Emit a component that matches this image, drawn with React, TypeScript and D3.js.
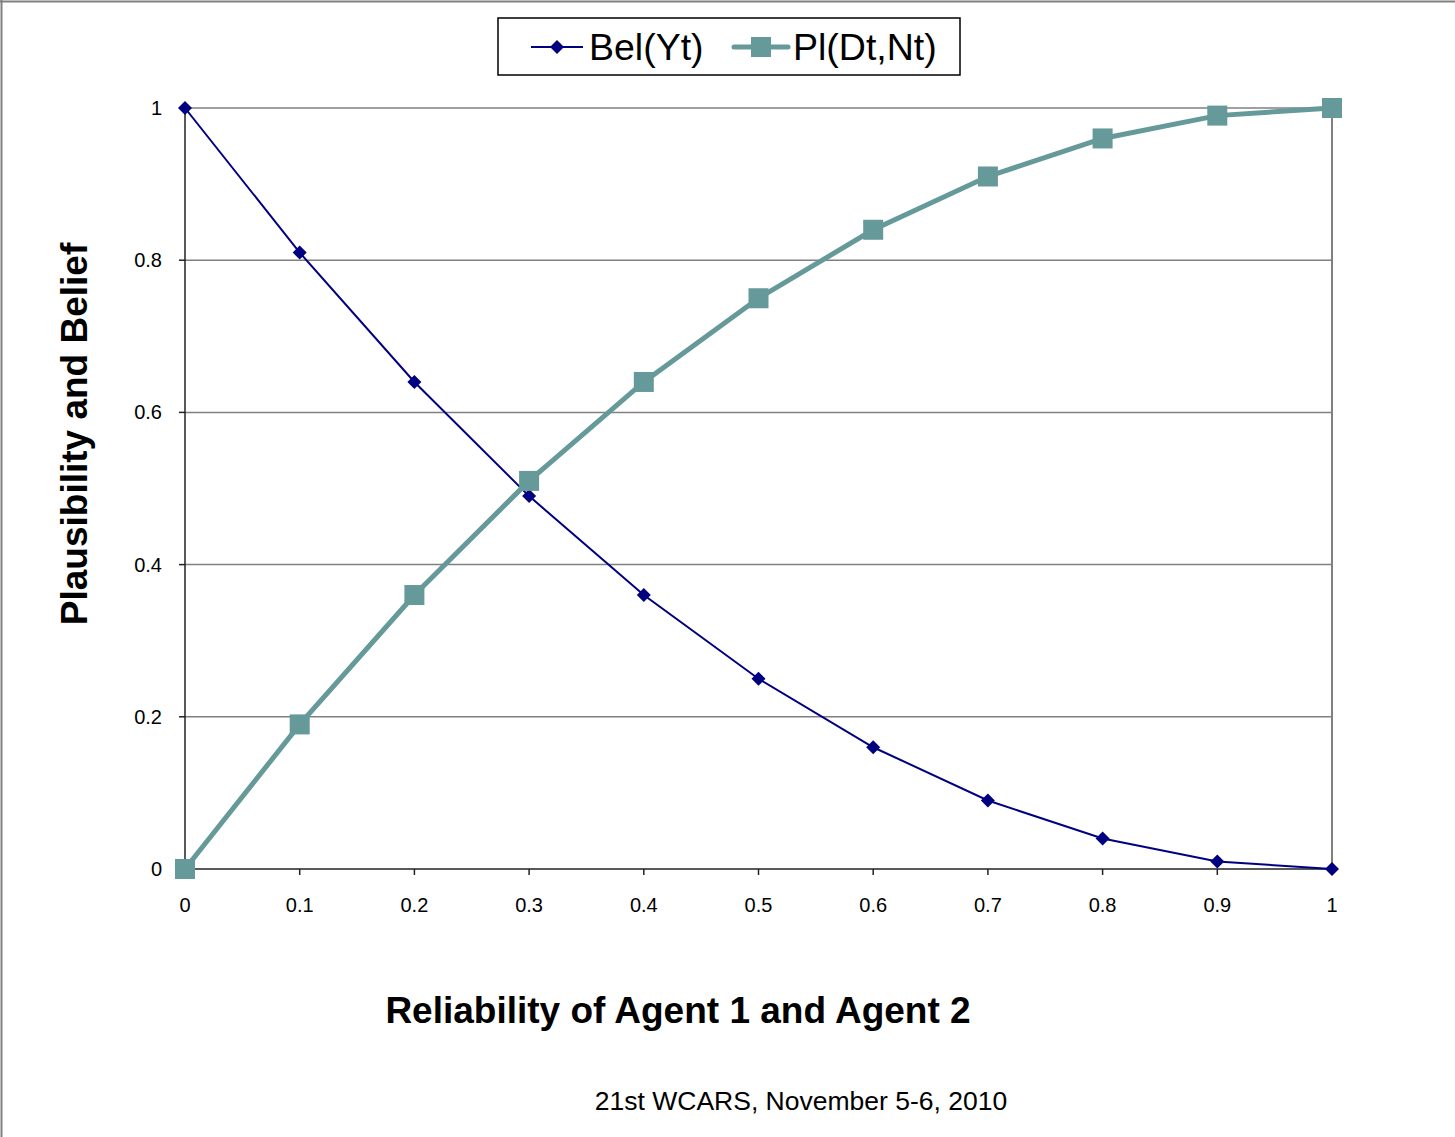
import React from 'react'
import * as d3 from 'd3'

// Data
const xValues = [0, 0.1, 0.2, 0.3, 0.4, 0.5, 0.6, 0.7, 0.8, 0.9, 1]
const belValues = [1, 0.81, 0.64, 0.49, 0.36, 0.25, 0.16, 0.09, 0.04, 0.01, 0]
const plValues = [0, 0.19, 0.36, 0.51, 0.64, 0.75, 0.84, 0.91, 0.96, 0.99, 1]
const yTicks = [0, 0.2, 0.4, 0.6, 0.8, 1]
const xTickLabels = ['0', '0.1', '0.2', '0.3', '0.4', '0.5', '0.6', '0.7', '0.8', '0.9', '1']
const yTickLabels = ['0', '0.2', '0.4', '0.6', '0.8', '1']
const seriesNames = ['Bel(Yt)', 'Pl(Dt,Nt)']

const W = 1455
const H = 1137
const font = 'Arial, "Liberation Sans", sans-serif'
const navy = '#000080'
const teal = '#669999'

export default function App() {
  const x = d3.scaleLinear().domain([0, 1]).range([185, 1332])
  const y = d3.scaleLinear().domain([0, 1]).range([869, 108])

  const line = d3
    .line<number>()
    .x((d, i) => x(xValues[i]))
    .y(d => y(d))

  const diamond = (cx: number, cy: number, r: number) =>
    `M${cx},${cy - r}L${cx + r},${cy}L${cx},${cy + r}L${cx - r},${cy}Z`

  return (
    <svg
      width={W}
      height={H}
      style={{ position: 'absolute', left: 0, top: 0, background: '#fff' }}
      fontFamily={font}
    >
      {/* outer frame (top and left only visible) */}
      <line x1={0} x2={W} y1={1.5} y2={1.5} stroke="#808080" strokeWidth={2} />
      <line x1={1.5} x2={1.5} y1={0} y2={H} stroke="#808080" strokeWidth={2} />

      {/* gridlines */}
      {yTicks.slice(1).map(t => (
        <line key={t} x1={x(0)} x2={x(1)} y1={y(t)} y2={y(t)} stroke="#808080" strokeWidth={1.5} />
      ))}
      <line x1={x(1)} x2={x(1)} y1={y(1)} y2={y(0)} stroke="#808080" strokeWidth={2} />

      {/* axes */}
      <line x1={x(0)} x2={x(0)} y1={y(1)} y2={y(0)} stroke="#222" strokeWidth={1.5} />
      <line x1={x(0)} x2={x(1)} y1={y(0)} y2={y(0)} stroke="#222" strokeWidth={1.5} />
      {yTicks.map((t, i) => (
        <g key={t}>
          <line x1={x(0) - 6} x2={x(0)} y1={y(t)} y2={y(t)} stroke="#222" strokeWidth={1.5} />
          <text x={162} y={y(t)} dy="0.35em" textAnchor="end" fontSize={20}>
            {yTickLabels[i]}
          </text>
        </g>
      ))}
      {xValues.map((v, i) => (
        <g key={v}>
          <line x1={x(v)} x2={x(v)} y1={y(0)} y2={y(0) + 6} stroke="#222" strokeWidth={1.5} />
          <text x={x(v)} y={912} textAnchor="middle" fontSize={20}>
            {xTickLabels[i]}
          </text>
        </g>
      ))}

      {/* series */}
      <path d={line(belValues) || ''} fill="none" stroke={navy} strokeWidth={2} />
      {belValues.map((v, i) => (
        <path key={i} d={diamond(x(xValues[i]), y(v), 7)} fill={navy} />
      ))}
      <path d={line(plValues) || ''} fill="none" stroke={teal} strokeWidth={5} />
      {plValues.map((v, i) => (
        <rect key={i} x={x(xValues[i]) - 10} y={y(v) - 10} width={20} height={20} fill={teal} />
      ))}

      {/* legend */}
      <rect x={498} y={18} width={462} height={57} fill="#fff" stroke="#000" strokeWidth={1.5} />
      <line x1={531} x2={583} y1={47} y2={47} stroke={navy} strokeWidth={2} />
      <path d={diamond(557, 47, 7)} fill={navy} />
      <text x={589} y={60} fontSize={37.5}>{seriesNames[0]}</text>
      <line x1={734} x2={788} y1={47} y2={47} stroke={teal} strokeWidth={5} strokeLinecap="round" />
      <rect x={751} y={37} width={20} height={20} fill={teal} />
      <text x={793} y={60} fontSize={37.5}>{seriesNames[1]}</text>

      {/* titles */}
      <text
        transform={`translate(87, 434) rotate(-90)`}
        textAnchor="middle"
        fontSize={37}
        fontWeight="bold"
      >
        Plausibility and Belief
      </text>
      <text x={678} y={1023} textAnchor="middle" fontSize={37}>
        <tspan fontWeight="bold">Reliability of Agent 1 and Agent 2</tspan>
      </text>
      <text x={801} y={1110} textAnchor="middle" fontSize={26.5}>
        21st WCARS, November 5-6, 2010
      </text>
    </svg>
  )
}
